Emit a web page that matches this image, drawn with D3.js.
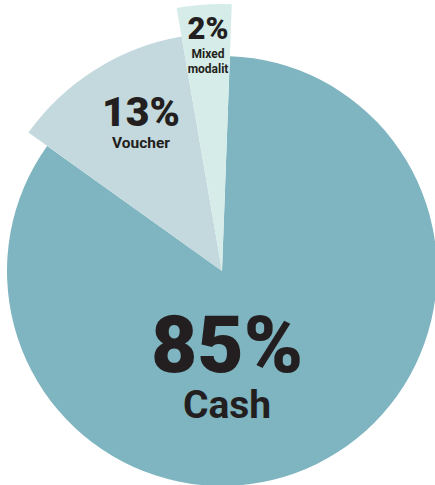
<!DOCTYPE html>
<html>
<head>
<meta charset="utf-8">
<script src="https://cdn.jsdelivr.net/npm/d3@7"></script>
<style>
  body { margin: 0; background: #fff; }
  text { font-family: Roboto, "Noto Sans", sans-serif; fill: #231f20; }
</style>
</head>
<body>
<svg width="435" height="485"></svg>
<script>
// slice shares (angles), labels as printed
const categories = ['Cash', 'Voucher', 'Mixed modalit']
const shares = [84.3, 12.4, 3.3]
const pctLabels = ['85%', '13%', '2%']

document.addEventListener('DOMContentLoaded', () => {
    const svg = d3.select('svg')
    const cx = 222, cy = 271

    const colors = d3.scaleOrdinal()
        .domain(categories)
        .range(['#7fb4c1', '#c3d9dd', '#d6ece8'])
    const radius = d3.scaleOrdinal()
        .domain(categories)
        .range([215, 238, 267])

    const start = 2.1 * Math.PI / 180
    const pie = d3.pie().sort(null).value(d => d.v)
        .startAngle(start).endAngle(start + 2 * Math.PI)

    const data = categories.map((c, i) => ({c: c, v: shares[i], p: pctLabels[i]}))
    const arcs = pie(data)

    const g = svg.append('g').attr('transform', `translate(${cx},${cy})`)

    g.selectAll('path').data(arcs)
        .enter().append('path')
            .attr('fill', d => colors(d.data.c))
            .attr('d', d => d3.arc().innerRadius(0).outerRadius(radius(d.data.c))(d))

    // label layout: [pct x, pct y, pct size, name y, name size]
    const layout = {
        'Cash': [5, 101, 80, 147, 39],
        'Voucher': [-81, -145, 41, -123, 15.5],
        'Mixed modalit': [-14, -232, 31, -213, 12]
    }

    arcs.forEach(d => {
        const l = layout[d.data.c]
        g.append('text')
            .attr('x', l[0]).attr('y', l[1])
            .attr('text-anchor', 'middle')
            .style('font-size', l[2] + 'px')
            .style('font-weight', 900)
            .text(d.data.p)
        if (d.data.c === 'Mixed modalit') {
            const t = g.append('text')
                .attr('text-anchor', 'middle')
                .style('font-size', l[4] + 'px')
                .style('font-weight', 700)
            t.append('tspan').attr('x', l[0]).attr('y', l[3]).text('Mixed')
            t.append('tspan').attr('x', l[0]).attr('y', l[3] + 15).text('modalit')
        } else {
            g.append('text')
                .attr('x', l[0]).attr('y', l[3])
                .attr('text-anchor', 'middle')
                .style('font-size', l[4] + 'px')
                .style('font-weight', 700)
                .text(d.data.c)
        }
    })
})
</script>
</body>
</html>
